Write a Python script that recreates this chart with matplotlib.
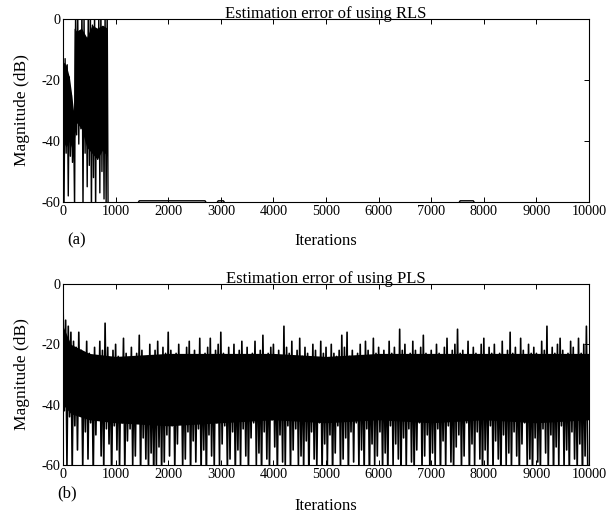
import numpy as np
import matplotlib
matplotlib.use("Agg")
import matplotlib.pyplot as plt

plt.rcParams["font.family"] = ["Liberation Serif", "DejaVu Serif"]
plt.rcParams["axes.unicode_minus"] = False

# ---- (a) RLS: dense part (20-iteration spacing), then it falls below -60 ----
rls_iter = [0, 20, 40, 60, 80, 100, 120, 140, 160, 180, 200, 220, 240, 260, 280,
            300, 320, 340, 360, 380, 400, 420, 440, 460, 480, 500, 520, 540, 560,
            580, 600, 620, 640, 660, 680, 700, 720, 740, 760, 780, 800, 820, 840,
            860, 1400, 1450, 2700, 2750, 2900, 2950, 3050, 3100, 7500, 7550,
            7800, 7850, 10000]
rls_db = [-12, -60, -13, -44, -15, -58, -19, -45, -25, -47, -31, -62, 4, -38, 2,
          -41, -4, -36, 5, -63, 1, -44, -9, -55, 3, -48, 6, -65, -2,
          -52, 4, -64, -6, -46, 2, -57, 5, -50, -3, -59, 3, -61, 4,
          -75, -61, -59.6, -59.6, -61, -61, -59.6, -59.6, -61, -61, -59.6,
          -59.6, -61, -61]
# solid core of the RLS band
rls_core_iter = [0, 60, 120, 160, 200, 210, 260, 350, 450, 550, 650, 750, 840]
rls_core_top = [-14, -15, -19, -24, -30, -3, -4, -3, -6, -2, -3, -2, -3]
rls_core_bot = [-40, -42, -40, -42, -43, -40, -34, -36, -42, -44, -46, -43, -45]

# ---- (b) PLS: upper samples at 0,50,...,9950; lower samples at 25,75,...,9975 ----
pls_upper = [-5, -12, -14, -16, -19, -21, -16, -22, -24, -19,
             -23, -26, -21, -24, -19, -22, -13, -21, -25, -22,
             -20, -24, -26, -18, -23, -25, -21, -27, -23, -17,
             -22, -25, -24, -20, -26, -22, -19, -24, -21, -23,
             -16, -22, -25, -23, -20, -26, -24, -21, -19, -25,
             -22, -24, -18, -26, -23, -21, -18, -25, -22, -20,
             -16, -23, -25, -21, -24, -20, -26, -22, -19, -24,
             -21, -25, -23, -19, -24, -22, -17, -25, -23, -21,
             -20, -24, -22, -26, -14, -21, -23, -19, -25, -22,
             -18, -24, -21, -23, -25, -20, -22, -26, -19, -23,
             -21, -25, -20, -23, -24, -22, -17, -21, -16, -24,
             -22, -25, -23, -20, -24, -19, -22, -26, -18, -23,
             -21, -24, -22, -25, -19, -23, -21, -24, -15, -22,
             -20, -25, -23, -19, -22, -24, -21, -17, -23, -25,
             -22, -24, -20, -23, -25, -21, -18, -24, -22, -20,
             -15, -23, -22, -25, -19, -24, -21, -23, -24, -20,
             -18, -24, -21, -23, -20, -25, -23, -19, -24, -22,
             -16, -23, -21, -24, -18, -22, -25, -20, -23, -21,
             -23, -25, -19, -22, -14, -24, -21, -23, -20, -18,
             -22, -24, -23, -19, -21, -25, -18, -23, -20, -14]
pls_lower = [-42, -60, -44, -62, -47, -55, -43, -61, -49, -58,
             -46, -64, -50, -45, -57, -62, -48, -53, -66, -47,
             -55, -61, -46, -63, -52, -48, -60, -57, -45, -64,
             -51, -58, -62, -56, -65, -60, -54, -63, -59, -50,
             -57, -47, -62, -53, -46, -61, -58, -49, -64, -52,
             -59, -48, -63, -55, -66, -50, -57, -61, -46, -60,
             -53, -47, -62, -58, -49, -64, -55, -61, -48, -57,
             -63, -51, -46, -60, -56, -65, -49, -58, -62, -45,
             -54, -64, -50, -59, -61, -47, -63, -55, -48, -60,
             -57, -62, -52, -66, -49, -58, -61, -46, -63, -53,
             -60, -50, -65, -56, -47, -62, -58, -51, -64, -49,
             -59, -46, -61, -55, -63, -48, -66, -53, -60, -57,
             -49, -62, -56, -64, -47, -60, -53, -58, -65, -51,
             -61, -48, -59, -63, -55, -46, -62, -57, -50, -64,
             -56, -60, -48, -65, -52, -61, -47, -59, -63, -54,
             -50, -62, -57, -46, -64, -53, -60, -49, -58, -65,
             -55, -61, -47, -63, -52, -58, -66, -50, -60, -56,
             -62, -49, -57, -64, -53, -46, -61, -58, -65, -51,
             -59, -63, -48, -56, -62, -50, -65, -54, -60, -47,
             -61, -55, -64, -49, -58, -62, -53, -66, -57, -60]
# solid core of the PLS band
pls_core_iter = [0, 150, 500, 1000, 2000, 3000, 4000, 5000, 6000, 7000, 8000, 9000, 10000]
pls_core_top = [-14, -20, -23, -24, -23, -23, -23, -24, -23, -23, -23, -23, -23]
pls_core_bot = [-40, -43, -45, -46, -47, -46, -45, -46, -45, -46, -45, -46, -45]

pls_iter = []
pls_db = []
for i in range(len(pls_upper)):
    pls_iter += [i * 50, i * 50 + 25]
    pls_db += [pls_upper[i], pls_lower[i]]

xticks = list(range(0, 10001, 1000))
yticks = [0, -20, -40, -60]

fig = plt.figure(figsize=(6.07, 5.16), dpi=100)
ax1 = fig.add_axes([0.1038, 0.6085, 0.8666, 0.3547])
ax2 = fig.add_axes([0.1038, 0.0988, 0.8666, 0.3508])

ax1.fill_between(rls_core_iter, rls_core_bot, rls_core_top, color="black", lw=0)
ax1.plot(rls_iter, rls_db, color="black", lw=1.0)
ax2.fill_between(pls_core_iter, pls_core_bot, pls_core_top, color="black", lw=0)
ax2.plot(pls_iter, pls_db, color="black", lw=1.2)

for ax, title in [(ax1, "Estimation error of using RLS"),
                  (ax2, "Estimation error of using PLS")]:
    ax.set_xlim(0, 10000)
    ax.set_ylim(-60, 0)
    ax.set_xticks(xticks)
    ax.set_yticks(yticks)
    ax.tick_params(direction="in", top=True, right=True, length=3.5,
                   width=0.7, labelsize=10.3, pad=2)
    for s in ax.spines.values():
        s.set_linewidth(0.8)
    ax.set_ylabel("Magnitude (dB)", fontsize=12.5, labelpad=8)
    ax.set_title(title, fontsize=12, pad=1)

fig.text(77 / 607, 1 - 240 / 516, "(a)", fontsize=12, ha="center", va="center")
fig.text(326 / 607, 1 - 241 / 516, "Iterations", fontsize=12, ha="center", va="center")
fig.text(67 / 607, 1 - 493 / 516, "(b)", fontsize=12, ha="center", va="center")
fig.text(326 / 607, 1 - 506 / 516, "Iterations", fontsize=12, ha="center", va="center")

fig.savefig("out.png", dpi=100)
